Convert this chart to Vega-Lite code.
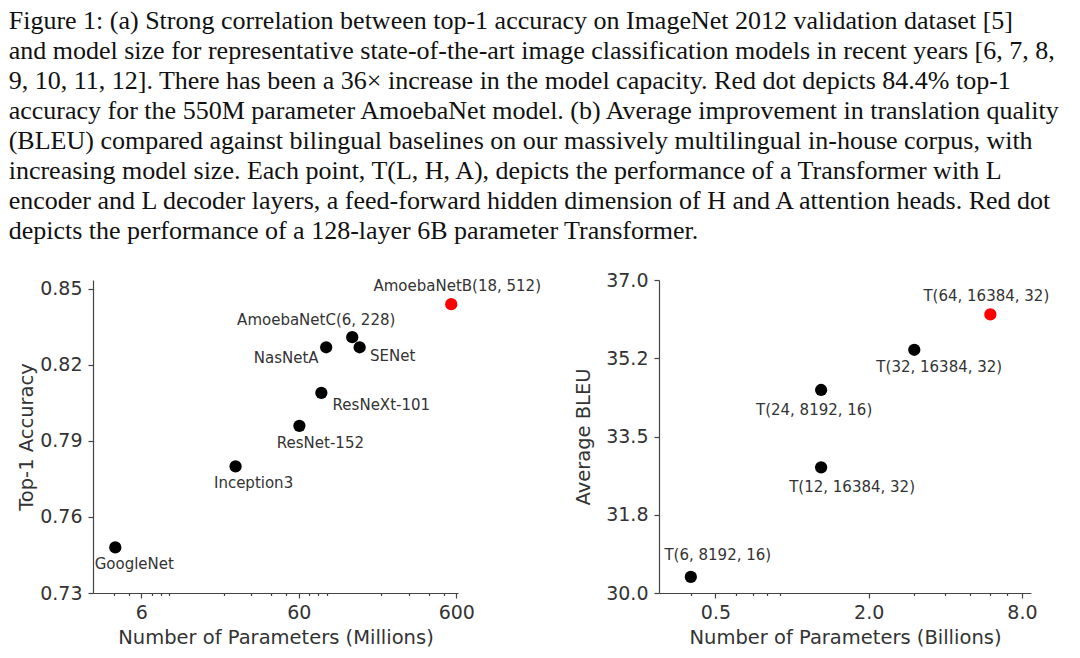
{
  "$schema": "https://vega.github.io/schema/vega-lite/v6.json",
  "background": "white",
  "padding": {"left": 8, "top": 8, "right": 5, "bottom": 5},
  "bounds": "flush",
  "spacing": 201,
  "config": {
    "view": {"stroke": null},
    "font": "DejaVu Sans",
    "axis": {
      "grid": false,
      "domainColor": "#444444",
      "tickColor": "#444444",
      "domainWidth": 1.2,
      "tickWidth": 1.2,
      "labelColor": "#333333",
      "titleColor": "#333333",
      "labelFont": "DejaVu Sans",
      "titleFont": "DejaVu Sans",
      "labelFontSize": 19,
      "titleFontSize": 19.5,
      "titleFontWeight": "normal",
      "labelFlush": false,
      "labelOverlap": false
    }
  },
  "title": {
    "text": [
      "Figure 1: (a) Strong correlation between top-1 accuracy on ImageNet 2012 validation dataset [5]",
      "and model size for representative state-of-the-art image classification models in recent years [6, 7, 8,",
      "9, 10, 11, 12]. There has been a 36× increase in the model capacity. Red dot depicts 84.4% top-1",
      "accuracy for the 550M parameter AmoebaNet model. (b) Average improvement in translation quality",
      "(BLEU) compared against bilingual baselines on our massively multilingual in-house corpus, with",
      "increasing model size. Each point, T(L, H, A), depicts the performance of a Transformer with L",
      "encoder and L decoder layers, a feed-forward hidden dimension of H and A attention heads. Red dot",
      "depicts the performance of a 128-layer 6B parameter Transformer."
    ],
    "anchor": "start",
    "font": "Liberation Serif",
    "fontSize": 26,
    "lineHeight": 30,
    "fontWeight": "normal",
    "color": "#111111",
    "offset": 27,
    "dx": -8
  },
  "datasets": {
    "imagenet": [
      {"name": "GoogleNet", "params": 4.1, "acc": 0.748, "group": "other"},
      {"name": "Inception3", "params": 23.8, "acc": 0.780, "group": "other"},
      {"name": "ResNet-152", "params": 60.5, "acc": 0.796, "group": "other"},
      {"name": "ResNeXt-101", "params": 83.4, "acc": 0.809, "group": "other"},
      {"name": "NasNetA", "params": 89.5, "acc": 0.827, "group": "other"},
      {"name": "AmoebaNetC(6, 228)", "params": 131, "acc": 0.831, "group": "other"},
      {"name": "SENet", "params": 146, "acc": 0.827, "group": "other"},
      {"name": "AmoebaNetB(18, 512)", "params": 557, "acc": 0.844, "group": "highlight"}
    ],
    "bleu": [
      {"name": "T(6, 8192, 16)", "params": 0.40, "bleu": 30.36, "group": "other"},
      {"name": "T(12, 16384, 32)", "params": 1.30, "bleu": 32.81, "group": "other"},
      {"name": "T(24, 8192, 16)", "params": 1.30, "bleu": 34.54, "group": "other"},
      {"name": "T(32, 16384, 32)", "params": 3.02, "bleu": 35.44, "group": "other"},
      {"name": "T(64, 16384, 32)", "params": 6.01, "bleu": 36.23, "group": "highlight"}
    ]
  },
  "hconcat": [
    {
      "width": 365,
      "height": 313,
      "data": {"name": "imagenet"},
      "resolve": {"axis": {"x": "independent"}},
      "layer": [
        {
          "encoding": {
            "x": {
              "field": "params", "type": "quantitative",
              "scale": {"type": "log", "domain": [2.96, 615], "nice": false},
              "axis": {"values": [6, 60, 600], "format": "d", "title": "Number of Parameters (Millions)", "tickSize": 5, "labelPadding": 5, "titlePadding": 6, "orient": "bottom"}
            },
            "y": {
              "field": "acc", "type": "quantitative",
              "scale": {"domain": [0.73, 0.85355], "nice": false, "zero": false},
              "axis": {"values": [0.73, 0.76, 0.79, 0.82, 0.85], "format": ".2f", "title": "Top-1 Accuracy", "tickSize": 5, "labelPadding": 6, "titlePadding": 3}
            }
          },
          "layer": [
            {
              "mark": {"type": "circle", "size": 150, "opacity": 1},
              "encoding": {
                "color": {"field": "group", "type": "nominal", "scale": {"domain": ["other", "highlight"], "range": ["#000000", "#ff0000"]}, "legend": null}
              }
            },
            {"transform": [{"filter": "datum.name === 'GoogleNet'"}], "mark": {"type": "text", "fontSize": 15, "color": "#333333", "dx": 19, "dy": 17}, "encoding": {"text": {"field": "name"}}},
            {"transform": [{"filter": "datum.name === 'Inception3'"}], "mark": {"type": "text", "fontSize": 15, "color": "#333333", "dx": 18, "dy": 17}, "encoding": {"text": {"field": "name"}}},
            {"transform": [{"filter": "datum.name === 'ResNet-152'"}], "mark": {"type": "text", "fontSize": 15, "color": "#333333", "dx": 21, "dy": 17}, "encoding": {"text": {"field": "name"}}},
            {"transform": [{"filter": "datum.name === 'ResNeXt-101'"}], "mark": {"type": "text", "fontSize": 15, "color": "#333333", "dx": 60, "dy": 12}, "encoding": {"text": {"field": "name"}}},
            {"transform": [{"filter": "datum.name === 'NasNetA'"}], "mark": {"type": "text", "fontSize": 15, "color": "#333333", "dx": -40, "dy": 11}, "encoding": {"text": {"field": "name"}}},
            {"transform": [{"filter": "datum.name === 'AmoebaNetC(6, 228)'"}], "mark": {"type": "text", "fontSize": 15, "color": "#333333", "dx": -36, "dy": -17}, "encoding": {"text": {"field": "name"}}},
            {"transform": [{"filter": "datum.name === 'SENet'"}], "mark": {"type": "text", "fontSize": 15, "color": "#333333", "dx": 33, "dy": 9}, "encoding": {"text": {"field": "name"}}},
            {"transform": [{"filter": "datum.name === 'AmoebaNetB(18, 512)'"}], "mark": {"type": "text", "fontSize": 15, "color": "#333333", "dx": 6, "dy": -18}, "encoding": {"text": {"field": "name"}}}
          ]
        },
        {
          "mark": {"type": "point", "opacity": 0},
          "encoding": {
            "x": {
              "field": "params", "type": "quantitative",
              "axis": {"values": [4, 5, 7, 8, 9, 20, 30, 40, 50, 70, 80, 90, 200, 300, 400, 500], "labels": false, "domain": false, "tickSize": 2.5, "title": null, "orient": "bottom"}
            }
          }
        }
      ]
    },
    {
      "width": 372,
      "height": 313,
      "data": {"name": "bleu"},
      "resolve": {"axis": {"x": "independent"}},
      "layer": [
        {
          "encoding": {
            "x": {
              "field": "params", "type": "quantitative",
              "scale": {"type": "log", "domain": [0.3, 8.68], "nice": false},
              "axis": {"values": [0.5, 2, 8], "format": ".1f", "title": "Number of Parameters (Billions)", "tickSize": 5, "labelPadding": 5, "titlePadding": 6, "orient": "bottom"}
            },
            "y": {
              "field": "bleu", "type": "quantitative",
              "scale": {"domain": [30, 37], "nice": false, "zero": false},
              "axis": {"values": [30, 31.75, 33.5, 35.25, 37], "labelExpr": "datum.value === 35.25 ? '35.2' : format(datum.value, '.1f')", "title": "Average BLEU", "tickSize": 5, "labelPadding": 6, "titlePadding": 12}
            }
          },
          "layer": [
            {
              "mark": {"type": "circle", "size": 150, "opacity": 1},
              "encoding": {
                "color": {"field": "group", "type": "nominal", "scale": {"domain": ["other", "highlight"], "range": ["#000000", "#ff0000"]}, "legend": null}
              }
            },
            {"transform": [{"filter": "datum.name === 'T(6, 8192, 16)'"}], "mark": {"type": "text", "fontSize": 15, "color": "#333333", "dx": 27, "dy": -22}, "encoding": {"text": {"field": "name"}}},
            {"transform": [{"filter": "datum.name === 'T(12, 16384, 32)'"}], "mark": {"type": "text", "fontSize": 15, "color": "#333333", "dx": 31, "dy": 20}, "encoding": {"text": {"field": "name"}}},
            {"transform": [{"filter": "datum.name === 'T(24, 8192, 16)'"}], "mark": {"type": "text", "fontSize": 15, "color": "#333333", "dx": -7, "dy": 20}, "encoding": {"text": {"field": "name"}}},
            {"transform": [{"filter": "datum.name === 'T(32, 16384, 32)'"}], "mark": {"type": "text", "fontSize": 15, "color": "#333333", "dx": 25, "dy": 17}, "encoding": {"text": {"field": "name"}}},
            {"transform": [{"filter": "datum.name === 'T(64, 16384, 32)'"}], "mark": {"type": "text", "fontSize": 15, "color": "#333333", "dx": -4, "dy": -18}, "encoding": {"text": {"field": "name"}}}
          ]
        },
        {
          "mark": {"type": "point", "opacity": 0},
          "encoding": {
            "x": {
              "field": "params", "type": "quantitative",
              "axis": {"values": [0.4, 0.6, 0.7, 0.8, 0.9, 3, 4, 5, 6, 7], "labels": false, "domain": false, "tickSize": 2.5, "title": null, "orient": "bottom"}
            }
          }
        }
      ]
    }
  ]
}
